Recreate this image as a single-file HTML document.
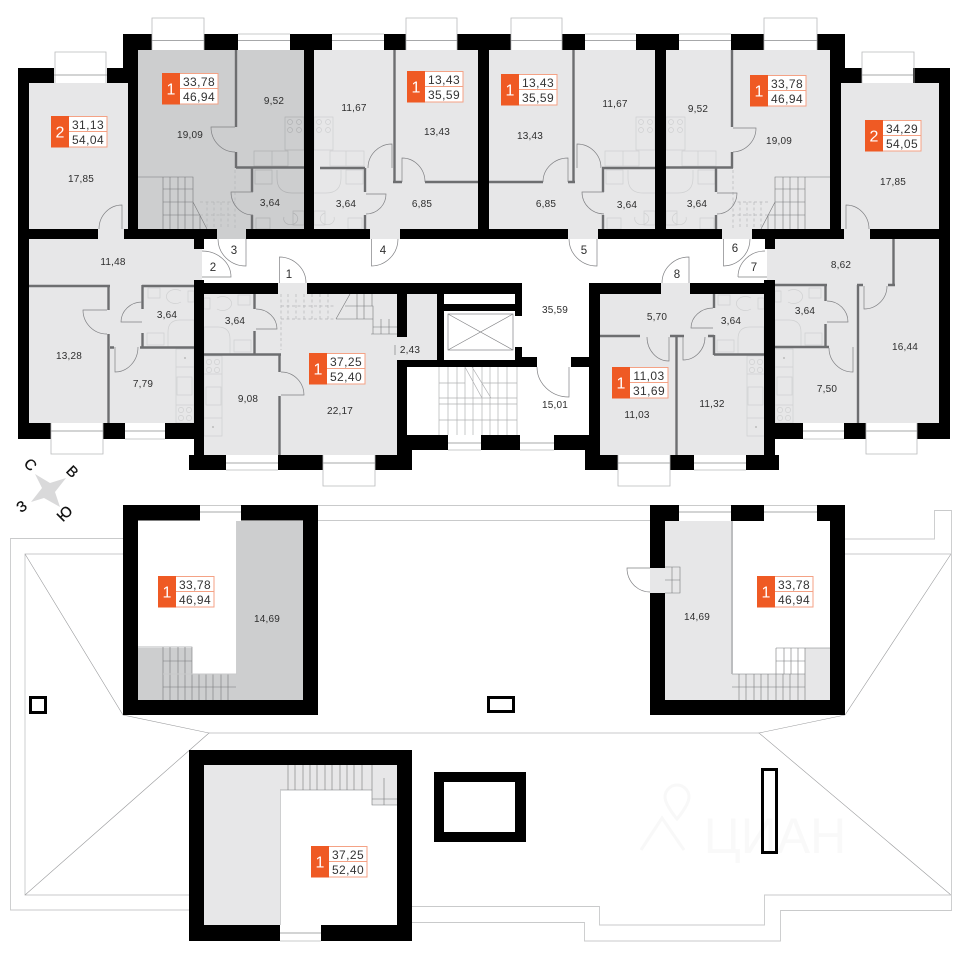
<!DOCTYPE html>
<html><head><meta charset="utf-8"><style>
html,body{margin:0;padding:0;background:#fff}
svg{display:block}
text{font-family:"Liberation Sans",sans-serif}
.r{font-size:10px;fill:#2e2e2e;text-anchor:middle;letter-spacing:.2px}
.n{font-size:11.5px;fill:#2e2e2e;text-anchor:middle}
.v{font-size:12px;fill:#333;text-anchor:middle;letter-spacing:.4px}
.o{font-size:16px;fill:#fff;text-anchor:middle}
.c{font-size:15px;fill:#111;text-anchor:middle;dominant-baseline:central;stroke:#111;stroke-width:.25}
.w{fill:none;stroke:#6d6e70;stroke-width:2.4}
.d{fill:none;stroke:#808184;stroke-width:.7}
.l{fill:none;stroke:#cfd0d1;stroke-width:.7}
.l2{fill:none;stroke:#b0b1b3;stroke-width:.7}
.st{fill:none;stroke:#b0b1b3;stroke-width:.7}
.s{fill:none;stroke:#77787a;stroke-width:.6}
.dash{fill:none;stroke:#b5b6b8;stroke-width:.7;stroke-dasharray:3 2.5}
.rf{fill:none;stroke:#c9cacb;stroke-width:.9}
.rd{fill:none;stroke:#9a9b9d;stroke-width:.6}
.win{fill:none;stroke:#b9babb;stroke-width:.8}
.wc{fill:none;stroke:#a7a8aa;stroke-width:1}
</style></head><body>
<svg width="960" height="960" viewBox="0 0 960 960" xmlns="http://www.w3.org/2000/svg">
<defs>
<g id="stair">
<path class="dash" d="M235 170V229M200 202H235M200 215H235M207 202V229M214 202V229M221 202V229M228 202V229"/>
<path class="s" d="M138 177H193V202M163 177V229M170 177V229M178 177V229M185 177V229M163 189H193M163 202H193L207 229M163 215H200M193 202V229M200 215V229"/>
</g>
<g id="kb">
<path class="l" d="M285 117H304V150H285ZM254 151H288V166H254ZM272 151V166"/>
<circle class="l" cx="290" cy="122" r="2.5"/><circle class="l" cx="299" cy="122" r="2.5"/><circle class="l" cx="290" cy="130" r="2.5"/><circle class="l" cx="299" cy="130" r="2.5"/>
<path class="l" d="M255 170H272V184H255ZM277 170V178Q277 193 292 193H304M293 211H304V225H293ZM284 217a7 6 0 1 0 9 -4M256 218H270V229H256Z"/>
</g>
<g id="bath2">
<path class="l" d="M148 288H160V298H148ZM147 333H164V345H147ZM168 347V332Q168 320 180 320H194V347M181 291a9 7 0 1 0 0 11M188 291V302H194V291Z"/>
</g>
<g id="kit">
<path class="l" d="M176 349H194V423H176ZM176 367H194M177 377H192V395H177ZM176 405H194"/>
<circle class="l" cx="181" cy="410" r="2.6"/><circle class="l" cx="189" cy="410" r="2.6"/><circle class="l" cx="181" cy="418" r="2.6"/><circle class="l" cx="189" cy="418" r="2.6"/>
<circle cx="185" cy="358" r="1" fill="#bbb"/>
</g>
<g id="kit2">
<path class="l" d="M176 356H194V436H176ZM176 374H194M177 387H192V405H177ZM176 418H194"/>
<circle class="l" cx="181" cy="362" r="2.6"/><circle class="l" cx="189" cy="362" r="2.6"/><circle class="l" cx="181" cy="370" r="2.6"/><circle class="l" cx="189" cy="370" r="2.6"/>
<circle cx="185" cy="427" r="1" fill="#bbb"/>
</g>
</defs>

<!-- fills -->
<g fill="#e7e7e8">
<rect x="29" y="83" width="99" height="146"/>
<rect x="98" y="229" width="26" height="10"/>
<rect x="314" y="50" width="164" height="179"/>
<rect x="489" y="50" width="166" height="179"/>
<rect x="666" y="50" width="164" height="179"/>
<rect x="841" y="83" width="98" height="146"/>
<rect x="370" y="229" width="30" height="10"/>
<rect x="568" y="229" width="30" height="10"/>
<rect x="722" y="229" width="30" height="10"/>
<rect x="844" y="229" width="26" height="10"/>
<rect x="29" y="239" width="165" height="184"/>
<rect x="194" y="249" width="8" height="31"/>
<rect x="204" y="294" width="193" height="161"/>
<rect x="278" y="283" width="29" height="11"/>
<rect x="407" y="294" width="30" height="66"/>
<rect x="395" y="337" width="12" height="23"/>
<rect x="600" y="294" width="164" height="161"/>
<rect x="661" y="283" width="29" height="11"/>
<rect x="775" y="239" width="164" height="184"/>
<rect x="767" y="249" width="8" height="31"/>
<!-- attic -->
<rect x="665" y="521" width="66" height="179"/>
<rect x="731" y="674" width="74" height="26"/>
<rect x="805" y="648" width="25" height="52"/>
<rect x="650" y="568" width="30" height="25"/>
<rect x="204" y="765" width="76" height="160"/>
<rect x="280" y="765" width="92" height="25"/>
<rect x="372" y="765" width="25" height="40"/>
</g>
<g fill="#cdcecf">
<rect x="138" y="50" width="166" height="179"/>
<rect x="217" y="229" width="29" height="10"/>
<rect x="237" y="521" width="66" height="179"/>
<rect x="138" y="674" width="99" height="26"/>
<rect x="138" y="648" width="54" height="30"/>
</g>

<!-- stairs -->
<use href="#stair"/>
<use href="#stair" transform="translate(968,0) scale(-1,1)"/>
<!-- fixtures of the darker unit -->
<path class="l2" d="M285 117H304V150H285ZM254 151H288V166H254ZM272 151V166"/>
<circle class="l2" cx="290" cy="122" r="2.5"/><circle class="l2" cx="299" cy="122" r="2.5"/><circle class="l2" cx="290" cy="130" r="2.5"/><circle class="l2" cx="299" cy="130" r="2.5"/>
<path class="l2" d="M255 170H272V184H255ZM277 170V178Q277 193 292 193H304M293 211H304V225H293ZM284 217a7 6 0 1 0 9 -4M256 218H270V229H256Z"/>
<use href="#kb" transform="translate(618,0) scale(-1,1)"/>
<use href="#kb" transform="translate(351,0)"/>
<use href="#kb" transform="translate(970,0) scale(-1,1)"/>
<use href="#bath2"/>
<use href="#bath2" transform="translate(398,7) scale(-1,1)"/>
<use href="#bath2" transform="translate(570,7)"/>
<use href="#bath2" transform="translate(969,0) scale(-1,1)"/>
<use href="#kit"/>
<use href="#kit2" transform="translate(398,0) scale(-1,1)"/>
<use href="#kit2" transform="translate(571,0)"/>
<use href="#kit" transform="translate(969,0) scale(-1,1)"/>

<!-- centre unit stairs -->
<path class="dash" d="M281 294V350M281 306H336M281 319H336M288 294V319M296 294V319M304 294V319M312 294V319M320 294V319M328 294V319"/>
<path class="s" d="M336 319L350 294M336 319H373M345 306H373V334M373 327H397M371 334H397M357 294V319M364 294V319M372 294V306M381 319V334M389 319V334"/>

<!-- main stair -->
<path class="st" d="M439 367V435M448 367V435M457 367V435M465 367V435M473 367V435M482 367V435M490 367V435M498 367V435M507 367V435M517 367V435M439 383H465M482 383H517M439 398H517M439 404H517M439 420H517M465 367L482 398M472 367L491 398"/>
<!-- lift -->
<rect x="448" y="314" width="65" height="36" class="d"/>
<path class="d" d="M448 314L513 350M513 314L448 350"/>
<path class="d" d="M395 345V355"/>

<!-- attic stairs -->
<path class="s" d="M138 647H192V674H163V700M163 661H192M170 647V674M178 647V674M185 647V674M163 647V674M163 687H236M170 674V700M178 674V700M185 674V700M192 674V700M199 674V700M206 674V700M213 674V700M221 674V700M228 674V700M163 674H237"/>
<path class="s" d="M776 648H830M776 648V674M784 648V674M791 648V674M798 648V674M805 648V700M776 661H805M732 674H805M732 687H805M739 674V700M746 674V700M754 674V700M761 674V700M768 674V700M776 674V700M783 674V700M790 674V700M798 674V700"/>
<path class="s" d="M665 567H680V593H665M665 580H680M672 567V593"/>
<path class="s" d="M280 790H372V805H397M288 765V790M295 765V790M303 765V790M310 765V790M317 765V790M325 765V790M332 765V790M340 765V790M347 765V790M354 765V790M362 765V790M372 765V805M384 778V805M372 799H397"/>

<!-- thin partitions -->
<path class="w" d="M236 50V127M236 152V168M236 167.5H304M252 168V192M252 215V229"/>
<path class="w" d="M394.5 50V182M393 182H402M425 182H478M320 168H365M365 168V192M365 215V229"/>
<path class="w" d="M573.500 50V182M489 182H543M568 182H575M602 168H655M603 168V192M603 215V229"/>
<path class="w" d="M732 50V127M732 152V168M666 167.500H733M716 168V192M716 215V229"/>
<path class="w" d="M29 286H110M108.500 285V310M108.500 334V423M110 347.500H114M142.500 285V309M142.500 333V347M142 286H194M140 347.500H194"/>
<path class="w" d="M254.500 294V309M254.500 331V355M204 354.500H281M279.500 355V372M279.500 396V455"/>
<path class="w" d="M714 294V308M714 335V355M714 354.500H764M600 336H640M670 336H684M708 336H714M676.500 336V455"/>
<path class="w" d="M893.500 239V286M888 285H895M858 285V423M857 285H863M825.500 285V301M825.500 324V347M775 285H827M775 347H829"/>
<path d="M236.500 521V674M163 674H237" class="rf" stroke-width="1"/>
<path d="M280.500 790V925" class="rf"/>
<path d="M732 521V674" stroke="#bcbdbf" stroke-width="2" fill="none"/>

<!-- inner doors -->
<path class="d" d="M235 127H211A24 25 0 0 0 235 152"/>
<path class="d" d="M253 192H231A22 23 0 0 0 253 215"/>
<path class="d" d="M402 182V158A23 24 0 0 1 425 182"/>
<path class="d" d="M392 168V144A24 24 0 0 0 368 168"/>
<path class="d" d="M366 194H386A20 20 0 0 1 366 214"/>
<path class="d" d="M568 182V158A25 24 0 0 0 543 182"/>
<path class="d" d="M577 168V144A24 24 0 0 1 601 168"/>
<path class="d" d="M604 192H582A22 22 0 0 0 604 214"/>
<path class="d" d="M733 128H756A24 24 0 0 1 733 152"/>
<path class="d" d="M717 193H737A20 21 0 0 1 717 214"/>
<path class="d" d="M107 310H83A24 24 0 0 0 107 334"/>
<path class="d" d="M115 347V372A23 25 0 0 0 138 347"/>
<path class="d" d="M142 322H121A21 20 0 0 1 142 302"/>
<path class="d" d="M256 309A21 20 0 0 1 277 329H256"/>
<path class="d" d="M281 372A23 23 0 0 1 304 395H281"/>
<path class="d" d="M713 308A22 20 0 0 0 691 328H713"/>
<path class="d" d="M647 337A22 24 0 0 0 669 361V337"/>
<path class="d" d="M683 337V360A22 23 0 0 0 705 337"/>
<path class="d" d="M864 286V309A23 23 0 0 0 887 286"/>
<path class="d" d="M827 301A21 21 0 0 1 848 322H827"/>
<path class="d" d="M829 348A24 24 0 0 0 853 372V347"/>
<path class="d" d="M122 229V205A23 24 0 0 0 99 229"/>
<path class="d" d="M846 229V205A23 24 0 0 1 869 229"/>

<!-- outer doors -->
<path class="d" d="M279.500 283V257A27 26 0 0 1 306 283"/>
<path class="d" d="M202 251A29 26 0 0 1 231 277H202"/>
<path class="d" d="M218 239A28 27 0 0 0 246 266V239"/>
<path class="d" d="M371.500 239V266A27 27 0 0 0 398 239"/>
<path class="d" d="M569 239A28 27 0 0 0 597 266V239"/>
<path class="d" d="M723.500 239V266A27 27 0 0 0 750 239"/>
<path class="d" d="M738 277A27 26 0 0 1 765 251M738 277H767"/>
<path class="d" d="M662 283A27 26 0 0 1 689 257V283"/>
<path class="d" d="M537 367A32 30 0 0 0 569 397V367"/>
<path class="d" d="M650 568H627A23 24 0 0 0 650 592"/>

<!-- roof -->
<path class="rf" d="M123 538.500H10.500V910H189M123 554H25V895H189"/>
<path class="rf" d="M318 505.500H650M318 520.500H650M209 733H759"/>
<path class="rd" d="M25 554L123 715L209 733L25 895M845 715L759 733L951 895M951 554L845 715"/>
<path class="rf" d="M845 539H934.500V510.500H951.500V910.500H780.500V941H584.500V922.500H412M845 554H951M951 895H764.500V925H599.500V906.500H412"/>

<!-- watermark -->
<g fill="none" stroke="#f8f8f8" stroke-width="3">
<path d="M665 797a12 12 0 0 1 24 0c0 8-12 22-12 22s-12-14-12-22z"/>
<path d="M641 850L662 818L684 850"/>
</g>
<text x="775" y="853" font-size="50" fill="#f9f9f9" text-anchor="middle">ЦИАН</text>

<!-- black walls -->
<g fill="#000">
<rect x="123" y="34" width="29" height="16"/><rect x="204" y="34" width="34" height="16"/><rect x="290" y="34" width="42" height="16"/><rect x="384" y="34" width="22" height="16"/><rect x="457" y="34" width="54" height="16"/><rect x="562" y="34" width="23" height="16"/><rect x="636" y="34" width="43" height="16"/><rect x="731" y="34" width="33" height="16"/><rect x="817" y="34" width="28" height="16"/>
<rect x="123" y="34" width="15" height="35"/><rect x="128" y="68" width="10" height="171"/>
<rect x="18" y="68" width="11" height="371"/><rect x="18" y="68" width="36" height="15"/><rect x="107" y="68" width="21" height="15"/>
<rect x="304" y="50" width="10" height="179"/><rect x="478" y="50" width="11" height="189"/><rect x="655" y="50" width="11" height="179"/><rect x="830" y="34" width="15" height="35"/><rect x="830" y="50" width="11" height="189"/>
<rect x="841" y="68" width="21" height="15"/><rect x="913" y="68" width="37" height="15"/><rect x="939" y="68" width="11" height="371"/>
<rect x="29" y="229" width="69" height="10"/><rect x="124" y="229" width="93" height="10"/><rect x="246" y="229" width="124" height="10"/><rect x="400" y="229" width="168" height="10"/><rect x="598" y="229" width="124" height="10"/><rect x="752" y="229" width="92" height="10"/><rect x="870" y="229" width="70" height="10"/>
<rect x="194" y="239" width="10" height="10"/><rect x="765" y="239" width="10" height="10"/>
<rect x="194" y="280" width="10" height="190"/><rect x="189" y="455" width="37" height="15"/><rect x="278" y="455" width="45" height="15"/><rect x="375" y="455" width="37" height="15"/>
<rect x="397" y="294" width="10" height="43"/><rect x="397" y="360" width="10" height="90"/><rect x="397" y="450" width="15" height="20"/>
<rect x="194" y="283" width="84" height="11"/><rect x="307" y="283" width="215" height="11"/><rect x="437" y="294" width="7" height="66"/><rect x="444" y="304" width="78" height="7"/><rect x="515" y="283" width="7" height="33"/><rect x="515" y="347" width="7" height="13"/><rect x="522" y="357" width="15" height="10"/><rect x="397" y="360" width="140" height="7"/>
<rect x="407" y="435" width="41" height="15"/><rect x="481" y="435" width="39" height="15"/><rect x="554" y="435" width="35" height="15"/>
<rect x="571" y="357" width="18" height="10"/><rect x="589" y="283" width="11" height="187"/><rect x="585" y="450" width="15" height="20"/><rect x="585" y="455" width="33" height="15"/><rect x="670" y="455" width="24" height="15"/><rect x="746" y="455" width="33" height="15"/>
<rect x="600" y="283" width="61" height="11"/><rect x="690" y="283" width="85" height="11"/><rect x="764" y="280" width="11" height="190"/>
<rect x="18" y="423" width="33" height="16"/><rect x="103" y="423" width="22" height="16"/><rect x="165" y="423" width="29" height="16"/><rect x="775" y="423" width="28" height="16"/><rect x="844" y="423" width="22" height="16"/><rect x="917" y="423" width="33" height="16"/>
<!-- attic walls -->
<path fill-rule="evenodd" d="M123 505H200V520.500H241V505H318V715H123ZM138 520.500V700H303V520.500Z"/>
<path fill-rule="evenodd" d="M650 505H679V521H731V505H764V521H817V505H845V715H650ZM665 521V568H650V593H665V700H830V521Z"/>
<path fill-rule="evenodd" d="M189 750H412V941H321V925H280V941H189ZM204 765V925H397V765Z"/>
<path fill-rule="evenodd" d="M434 772H526V842H434ZM444 782V832H515V782Z"/>
<path fill-rule="evenodd" d="M29 696H47V714H29ZM32 699V711H44V699Z"/>
<path fill-rule="evenodd" d="M487 696H515V713H487ZM490 699V710H512V699Z"/>
<path fill-rule="evenodd" d="M761 768H778V854H761ZM764 771V851H775V771Z"/>
</g>

<!-- windows -->
<path class="win" d="M152 50V18H204V50M406 50V18H457V50M511 50V18H562V50M764 50V18H817V50M55 83V52H106V83M862 83V52H914V83M51 423V454H103V423M866 423V454H917V423M323 455V486H375V455M618 455V486H670V455"/>
<path class="win" d="M238 34H290M332 34H384M585 34H636M679 34H731M125 439H165M803 439H844M226 470H278M694 470H746M448 450H481M520 450H554M200 505.500H241M679 505.500H731M764 505.500H817M280 941H321"/>
<path class="wc" d="M152 40.500H204M238 40.500H290M332 40.500H384M406 40.500H457M511 40.500H562M585 40.500H636M679 40.500H731M764 40.500H817M54 75H107M862 75H913M51 431H103M125 431H165M803 431H844M866 431H917M226 463H278M323 463H375M618 463H670M694 463H746M448 443H481M520 443H554M200 512H241M679 512H731M764 512H817M280 933H321"/>

<!-- compass -->
<path fill="#d9d9da" d="M35 474L50 483L66 478L55 492L60 507L44 498L31 502L42 488Z"/>
<text class="c" transform="translate(30,465) rotate(45)">С</text>
<text class="c" transform="translate(72,472) rotate(45)">В</text>
<text class="c" transform="translate(22,507) rotate(-35)">З</text>
<text class="c" transform="translate(65,514) rotate(-45)">Ю</text>

<!-- unit labels -->
<g>
<g transform="translate(51,116)"><rect x=".5" y=".5" width="55.500" height="30.500" fill="#fff" stroke="#f4a285"/><rect width="18" height="31.500" fill="#ef5a24"/><path d="M18 15.500H56" stroke="#f4a285"/><text class="o" x="9" y="21.500">2</text><text class="v" x="37" y="13">31,13</text><text class="v" x="37" y="28">54,04</text></g>
<g transform="translate(162,73)"><rect x=".5" y=".5" width="55.500" height="30.500" fill="#fff" stroke="#f4a285"/><rect width="18" height="31.500" fill="#ef5a24"/><path d="M18 15.500H56" stroke="#f4a285"/><text class="o" x="9" y="21.500">1</text><text class="v" x="37" y="13">33,78</text><text class="v" x="37" y="28">46,94</text></g>
<g transform="translate(407,71)"><rect x=".5" y=".5" width="55.500" height="30.500" fill="#fff" stroke="#f4a285"/><rect width="18" height="31.500" fill="#ef5a24"/><path d="M18 15.500H56" stroke="#f4a285"/><text class="o" x="9" y="21.500">1</text><text class="v" x="37" y="13">13,43</text><text class="v" x="37" y="28">35,59</text></g>
<g transform="translate(501,74)"><rect x=".5" y=".5" width="55.500" height="30.500" fill="#fff" stroke="#f4a285"/><rect width="18" height="31.500" fill="#ef5a24"/><path d="M18 15.500H56" stroke="#f4a285"/><text class="o" x="9" y="21.500">1</text><text class="v" x="37" y="13">13,43</text><text class="v" x="37" y="28">35,59</text></g>
<g transform="translate(750,75)"><rect x=".5" y=".5" width="55.500" height="30.500" fill="#fff" stroke="#f4a285"/><rect width="18" height="31.500" fill="#ef5a24"/><path d="M18 15.500H56" stroke="#f4a285"/><text class="o" x="9" y="21.500">1</text><text class="v" x="37" y="13">33,78</text><text class="v" x="37" y="28">46,94</text></g>
<g transform="translate(865,120)"><rect x=".5" y=".5" width="55.500" height="30.500" fill="#fff" stroke="#f4a285"/><rect width="18" height="31.500" fill="#ef5a24"/><path d="M18 15.500H56" stroke="#f4a285"/><text class="o" x="9" y="21.500">2</text><text class="v" x="37" y="13">34,29</text><text class="v" x="37" y="28">54,05</text></g>
<g transform="translate(309,353)"><rect x=".5" y=".5" width="55.500" height="30.500" fill="#fff" stroke="#f4a285"/><rect width="18" height="31.500" fill="#ef5a24"/><path d="M18 15.500H56" stroke="#f4a285"/><text class="o" x="9" y="21.500">1</text><text class="v" x="37" y="13">37,25</text><text class="v" x="37" y="28">52,40</text></g>
<g transform="translate(612,367)"><rect x=".5" y=".5" width="55.500" height="30.500" fill="#fff" stroke="#f4a285"/><rect width="18" height="31.500" fill="#ef5a24"/><path d="M18 15.500H56" stroke="#f4a285"/><text class="o" x="9" y="21.500">1</text><text class="v" x="37" y="13">11,03</text><text class="v" x="37" y="28">31,69</text></g>
<g transform="translate(158,576)"><rect x=".5" y=".5" width="55.500" height="30.500" fill="#fff" stroke="#f4a285"/><rect width="18" height="31.500" fill="#ef5a24"/><path d="M18 15.500H56" stroke="#f4a285"/><text class="o" x="9" y="21.500">1</text><text class="v" x="37" y="13">33,78</text><text class="v" x="37" y="28">46,94</text></g>
<g transform="translate(757,576)"><rect x=".5" y=".5" width="55.500" height="30.500" fill="#fff" stroke="#f4a285"/><rect width="18" height="31.500" fill="#ef5a24"/><path d="M18 15.500H56" stroke="#f4a285"/><text class="o" x="9" y="21.500">1</text><text class="v" x="37" y="13">33,78</text><text class="v" x="37" y="28">46,94</text></g>
<g transform="translate(311,846)"><rect x=".5" y=".5" width="55.500" height="30.500" fill="#fff" stroke="#f4a285"/><rect width="18" height="31.500" fill="#ef5a24"/><path d="M18 15.500H56" stroke="#f4a285"/><text class="o" x="9" y="21.500">1</text><text class="v" x="37" y="13">37,25</text><text class="v" x="37" y="28">52,40</text></g>
</g>

<!-- room labels -->
<text class="r" x="81" y="182">17,85</text>
<text class="r" x="190" y="138">19,09</text>
<text class="r" x="274" y="104">9,52</text>
<text class="r" x="270" y="206">3,64</text>
<text class="r" x="354" y="111">11,67</text>
<text class="r" x="437" y="135">13,43</text>
<text class="r" x="346" y="207">3,64</text>
<text class="r" x="422" y="207">6,85</text>
<text class="r" x="530" y="139">13,43</text>
<text class="r" x="615" y="107">11,67</text>
<text class="r" x="546" y="207">6,85</text>
<text class="r" x="627" y="208">3,64</text>
<text class="r" x="698" y="112">9,52</text>
<text class="r" x="779" y="144">19,09</text>
<text class="r" x="697" y="207">3,64</text>
<text class="r" x="893" y="185">17,85</text>
<text class="r" x="113" y="265">11,48</text>
<text class="r" x="167" y="318">3,64</text>
<text class="r" x="69" y="359">13,28</text>
<text class="r" x="143" y="387">7,79</text>
<text class="r" x="235" y="324">3,64</text>
<text class="r" x="248" y="402">9,08</text>
<text class="r" x="340" y="414">22,17</text>
<text class="r" x="410" y="353">2,43</text>
<text class="r" x="555" y="313">35,59</text>
<text class="r" x="555" y="408">15,01</text>
<text class="r" x="657" y="320">5,70</text>
<text class="r" x="731" y="324">3,64</text>
<text class="r" x="637" y="418">11,03</text>
<text class="r" x="712" y="407">11,32</text>
<text class="r" x="805" y="314">3,64</text>
<text class="r" x="841" y="268">8,62</text>
<text class="r" x="827" y="392">7,50</text>
<text class="r" x="905" y="350">16,44</text>
<text class="r" x="267" y="622">14,69</text>
<text class="r" x="697" y="620">14,69</text>

<text class="n" x="289" y="278">1</text>
<text class="n" x="213" y="271">2</text>
<text class="n" x="234" y="254">3</text>
<text class="n" x="383" y="254">4</text>
<text class="n" x="584" y="254">5</text>
<text class="n" x="735" y="252">6</text>
<text class="n" x="754" y="271">7</text>
<text class="n" x="677" y="278">8</text>
</svg>
</body></html>
